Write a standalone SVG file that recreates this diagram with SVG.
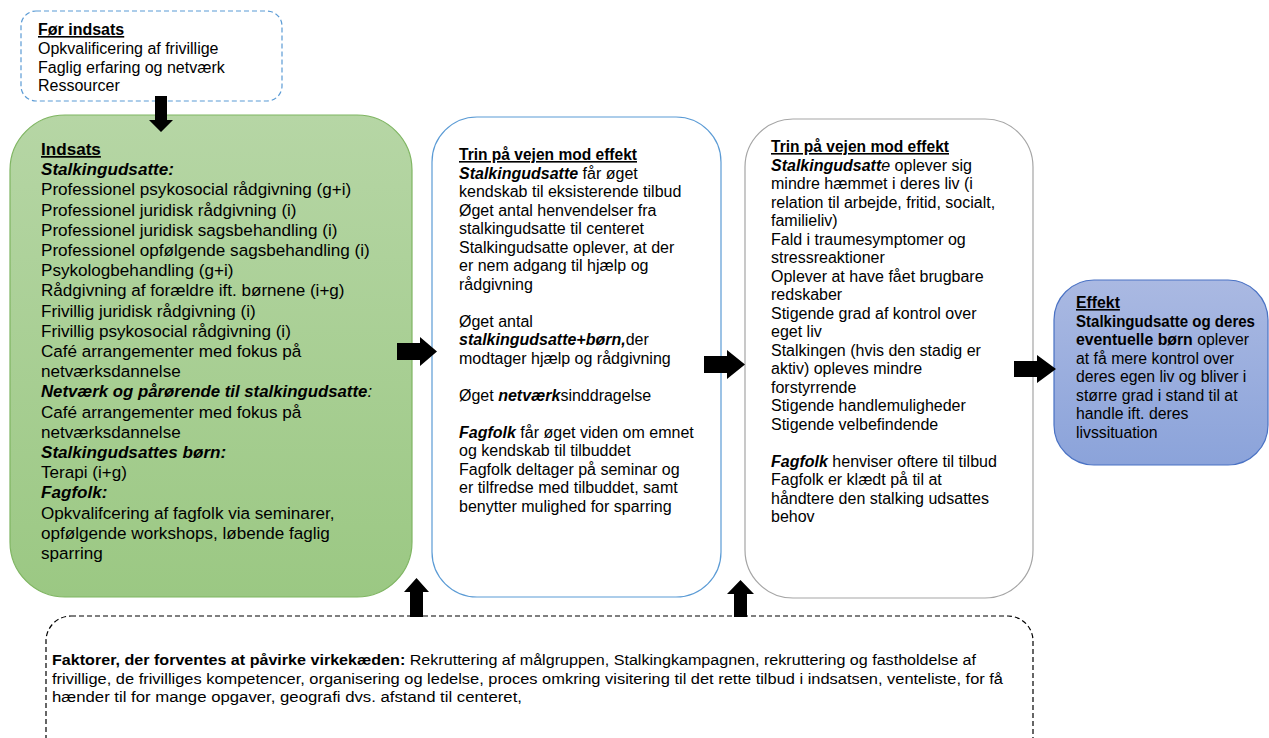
<svg xmlns="http://www.w3.org/2000/svg" width="1269" height="738" viewBox="0 0 1269 738">
<defs>
<linearGradient id="gGreen" x1="0" y1="0" x2="0" y2="1"><stop offset="0" stop-color="#b6d6a5"/><stop offset="1" stop-color="#9bc883"/></linearGradient>
<linearGradient id="gBlue" x1="0" y1="0" x2="0" y2="1"><stop offset="0" stop-color="#aab9e2"/><stop offset="1" stop-color="#8ba3da"/></linearGradient>
</defs>
<style>
text{font-family:"Liberation Sans",Arial,sans-serif;fill:#000}
.g{font-size:17.1px}
.m{font-size:16px}
.e{font-size:15.8px}
.t{font-size:16px}
.bt{font-size:15.5px}
.b{font-weight:bold}
.i{font-style:italic}
.u{text-decoration:underline}
.arrow{fill:#000}
</style>
<rect width="1269" height="738" fill="#fff"/>

<g id="foer-indsats">
<rect x="21" y="11" width="261" height="90" rx="15" fill="#fff" stroke="#5b9bd5" stroke-width="1.2" stroke-dasharray="5,3"/>
<text class="t" x="38" y="35"><tspan class="b u">Før indsats</tspan></text>
<text class="t" x="38" y="54">Opkvalificering af frivillige</text>
<text class="t" x="38" y="72.5">Faglig erfaring og netværk</text>
<text class="t" x="38" y="91">Ressourcer</text>
</g>

<g id="indsats">
<rect x="10" y="115" width="402" height="482" rx="55" fill="url(#gGreen)" stroke="#7fb562" stroke-width="1.2"/>
<text class="g" x="41" y="155"><tspan class="b u">Indsats</tspan></text>
<text class="g" x="41" y="175.2"><tspan class="b i">Stalkingudsatte:</tspan></text>
<text class="g" x="41" y="195.4">Professionel psykosocial rådgivning (g+i)</text>
<text class="g" x="41" y="215.6">Professionel juridisk rådgivning (i)</text>
<text class="g" x="41" y="235.8">Professionel juridisk sagsbehandling (i)</text>
<text class="g" x="41" y="256">Professionel opfølgende sagsbehandling (i)</text>
<text class="g" x="41" y="276.2">Psykologbehandling (g+i)</text>
<text class="g" x="41" y="296.4">Rådgivning af forældre ift. børnene (i+g)</text>
<text class="g" x="41" y="316.6">Frivillig juridisk rådgivning (i)</text>
<text class="g" x="41" y="336.8">Frivillig psykosocial rådgivning (i)</text>
<text class="g" x="41" y="357">Café arrangementer med fokus på</text>
<text class="g" x="41" y="377.2">netværksdannelse</text>
<text x="41" y="397.4" style="font-size:16.8px"><tspan class="b i">Netværk og pårørende til stalkingudsatte</tspan><tspan class="i">:</tspan></text>
<text class="g" x="41" y="417.6">Café arrangementer med fokus på</text>
<text class="g" x="41" y="437.8">netværksdannelse</text>
<text class="g" x="41" y="458"><tspan class="b i">Stalkingudsattes børn:</tspan></text>
<text class="g" x="41" y="478.2">Terapi (i+g)</text>
<text class="g" x="41" y="498.4"><tspan class="b i">Fagfolk:</tspan></text>
<text class="g" x="41" y="518.6">Opkvalifcering af fagfolk via seminarer,</text>
<text class="g" x="41" y="538.8">opfølgende workshops, løbende faglig</text>
<text class="g" x="41" y="559">sparring</text>
</g>

<g id="trin1">
<rect x="432" y="117" width="289" height="480" rx="45" fill="#fff" stroke="#5b9bd5" stroke-width="1.2"/>
<text class="m" x="459" y="160" textLength="178" lengthAdjust="spacingAndGlyphs"><tspan class="b u">Trin på vejen mod effekt</tspan></text>
<text class="m" x="459" y="178.5"><tspan class="b i">Stalkingudsatte</tspan> får øget</text>
<text class="m" x="459" y="197">kendskab til eksisterende tilbud</text>
<text class="m" x="459" y="215.5">Øget antal henvendelser fra</text>
<text class="m" x="459" y="234">stalkingudsatte til centeret</text>
<text class="m" x="459" y="252.5">Stalkingudsatte oplever, at der</text>
<text class="m" x="459" y="271">er nem adgang til hjælp og</text>
<text class="m" x="459" y="289.5">rådgivning</text>
<text class="m" x="459" y="326.5">Øget antal</text>
<text class="m" x="459" y="345"><tspan class="b i">stalkingudsatte+børn,</tspan>der</text>
<text class="m" x="459" y="363.5">modtager hjælp og rådgivning</text>
<text class="m" x="459" y="400.5">Øget <tspan class="b i">netværk</tspan>sinddragelse</text>
<text class="m" x="459" y="437.5"><tspan class="b i">Fagfolk</tspan> får øget viden om emnet</text>
<text class="m" x="459" y="456">og kendskab til tilbuddet</text>
<text class="m" x="459" y="474.5">Fagfolk deltager på seminar og</text>
<text class="m" x="459" y="493">er tilfredse med tilbuddet, samt</text>
<text class="m" x="459" y="511.5">benytter mulighed for sparring</text>
</g>

<g id="trin2">
<rect x="745" y="119" width="288" height="479" rx="48" fill="#fff" stroke="#a5a5a5" stroke-width="1.2"/>
<text class="m" x="771" y="152" textLength="178" lengthAdjust="spacingAndGlyphs"><tspan class="b u">Trin på vejen mod effekt</tspan></text>
<text class="m" x="771" y="170.5"><tspan class="b i">Stalkingudsatt</tspan><tspan class="i">e</tspan> oplever sig</text>
<text class="m" x="771" y="189">mindre hæmmet i deres liv (i</text>
<text class="m" x="771" y="207.5">relation til arbejde, fritid, socialt,</text>
<text class="m" x="771" y="226">familieliv)</text>
<text class="m" x="771" y="244.5">Fald i traumesymptomer og</text>
<text class="m" x="771" y="263">stressreaktioner</text>
<text class="m" x="771" y="281.5">Oplever at have fået brugbare</text>
<text class="m" x="771" y="300">redskaber</text>
<text class="m" x="771" y="318.5">Stigende grad af kontrol over</text>
<text class="m" x="771" y="337">eget liv</text>
<text class="m" x="771" y="355.5">Stalkingen (hvis den stadig er</text>
<text class="m" x="771" y="374">aktiv) opleves mindre</text>
<text class="m" x="771" y="392.5">forstyrrende</text>
<text class="m" x="771" y="411">Stigende handlemuligheder</text>
<text class="m" x="771" y="429.5">Stigende velbefindende</text>
<text class="m" x="771" y="466.5"><tspan class="b i">Fagfolk</tspan> henviser oftere til tilbud</text>
<text class="m" x="771" y="485">Fagfolk er klædt på til at</text>
<text class="m" x="771" y="503.5">håndtere den stalking udsattes</text>
<text class="m" x="771" y="522">behov</text>
</g>

<g id="effekt">
<rect x="1054" y="280" width="214" height="185" rx="40" fill="url(#gBlue)" stroke="#4a72c4" stroke-width="1.2"/>
<text class="e" x="1076" y="308"><tspan class="b u">Effekt</tspan></text>
<text class="e" x="1076" y="326.5" textLength="179" lengthAdjust="spacingAndGlyphs"><tspan class="b">Stalkingudsatte og deres</tspan></text>
<text class="e" x="1076" y="345"><tspan class="b">eventuelle børn</tspan> oplever</text>
<text class="e" x="1076" y="363.5">at få mere kontrol over</text>
<text class="e" x="1076" y="382">deres egen liv og bliver i</text>
<text class="e" x="1076" y="400.5">større grad i stand til at</text>
<text class="e" x="1076" y="419">handle ift. deres</text>
<text class="e" x="1076" y="437.5">livssituation</text>
</g>

<g id="faktorer">
<rect x="46" y="616" width="987" height="160" rx="25" fill="none" stroke="#000" stroke-width="1.2" stroke-dasharray="5,3"/>
<text class="bt" x="52" y="665" textLength="924" lengthAdjust="spacingAndGlyphs"><tspan class="b">Faktorer, der forventes at påvirke virkekæden:</tspan> Rekruttering af målgruppen, Stalkingkampagnen, rekruttering og fastholdelse af</text>
<text class="bt" x="52" y="683.5" textLength="951" lengthAdjust="spacingAndGlyphs">frivillige, de frivilliges kompetencer, organisering og ledelse, proces omkring visitering til det rette tilbud i indsatsen, venteliste, for få</text>
<text class="bt" x="52" y="702" textLength="470" lengthAdjust="spacingAndGlyphs">hænder til for mange opgaver, geografi dvs. afstand til centeret,</text>
</g>

<g id="connectors">
<polygon class="arrow" points="155,96 167,96 167,120 173,120 161,132 149,120 155,120"/>
<polygon class="arrow" points="397,343 420,343 420,337 437,351.5 420,366 420,360 397,360"/>
<polygon class="arrow" points="704,356 727,356 727,350 745,364.5 727,379 727,373 704,373"/>
<polygon class="arrow" points="1014,361 1037,361 1037,355 1056,369 1037,383 1037,377 1014,377"/>
<polygon class="arrow" points="410,617 410,592 404,592 416.5,578 429,592 423,592 423,617"/>
<polygon class="arrow" points="734,617 734,594 727,594 740.5,580 754,594 747,594 747,617"/>
</g>
</svg>
